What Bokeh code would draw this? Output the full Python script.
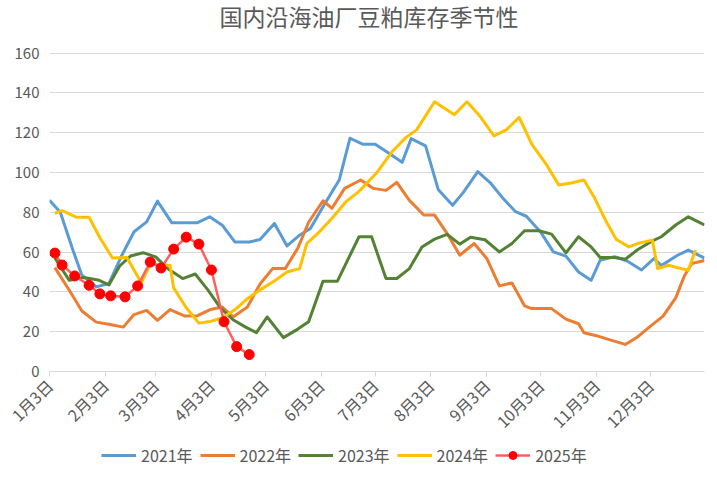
from bokeh.plotting import figure
from bokeh.layouts import column
from bokeh.models import Range1d, FixedTicker, Legend, LegendItem, Label
from bokeh.embed import file_html
from bokeh.resources import INLINE
import math

# x values: days since 1月3日
tick_days = [0, 31, 59, 90, 120, 151, 181, 212, 243, 273, 304, 334]
tick_labels = ["1月3日", "2月3日", "3月3日", "4月3日", "5月3日", "6月3日",
               "7月3日", "8月3日", "9月3日", "10月3日", "11月3日", "12月3日"]
y_ticks = [0, 20, 40, 60, 80, 100, 120, 140, 160]

x_2021 = [0, 6, 13, 18, 26, 33, 40, 47, 54, 60, 68, 75, 82, 89, 96, 103, 111, 117,
          125, 132, 139, 145, 152, 161, 167, 174, 181, 188, 196, 201, 209, 216, 224,
          230, 238, 245, 252, 259, 265, 273, 280, 287, 294, 301, 306, 314, 321, 329,
          336, 340, 349, 355, 364]
y_2021 = [86, 80, 61, 48.4, 42.5, 44.2, 58, 70.2, 75.2, 85.6, 74.7, 74.7, 74.7, 77.7,
          73.5, 65.1, 65.1, 66.3, 74.4, 63.1, 68.5, 71.9, 82.8, 96.2, 117.2, 114.2,
          114.2, 110, 105.1, 117, 113.4, 91.5, 83.5, 90, 100.4, 94.8, 87, 80.3, 78, 70,
          60.1, 58, 50, 45.8, 55.9, 57.7, 55.5, 51, 56.8, 53.2, 58.4, 61, 57]

x_2022 = [3, 11, 18, 26, 33, 41, 47, 54, 60, 67, 75, 82, 89, 96, 102, 110, 117, 124,
          131, 138, 144, 152, 157, 164, 173, 180, 187, 193, 200, 208, 214, 221, 228,
          236, 243, 250, 257, 264, 268, 273, 279, 287, 294, 297, 304, 311, 320, 327,
          334, 341, 348, 353, 357, 364]
y_2022 = [52.2, 40.8, 30.4, 24.8, 23.7, 22.3, 28.6, 30.7, 25.7, 31.1, 27.9, 28, 31,
          32.4, 27.4, 32.4, 44, 51.7, 51.7, 62, 75, 85.8, 82, 92, 96.2, 92, 91, 95, 86,
          78.6, 78.6, 69.3, 58.4, 64.3, 56.8, 43, 44.5, 33, 31.6, 31.6, 31.6, 26.3, 24,
          19.5, 18, 16, 13.6, 17.5, 22.8, 27.8, 37, 48.4, 54.3, 55.8]

x_2023 = [3, 11, 19, 27, 33, 39, 45, 52, 59, 66, 74, 81, 88, 95, 102, 109, 115, 121,
          130, 138, 144, 152, 160, 172, 179, 187, 193, 200, 207, 214, 221, 228, 234,
          242, 250, 257, 264, 272, 279, 287, 294, 301, 306, 314, 320, 327, 334, 340,
          348, 355, 364]
y_2023 = [57, 45.8, 47.2, 46, 43.5, 53, 58, 59.7, 57.6, 51.5, 46.7, 49, 41, 32, 26,
          22.3, 19.5, 27.4, 17, 21.3, 25, 45.4, 45.4, 67.7, 67.7, 46.7, 46.7, 51.7,
          62.6, 66.5, 68.9, 64, 67.4, 66.2, 60.1, 64.3, 70.7, 70.7, 69, 59.6, 67.7,
          62.6, 57.3, 57.3, 56.4, 61.3, 65.1, 67.7, 73.6, 77.7, 73.6]

x_2024 = [3, 7, 15, 22, 28, 35, 43, 51, 56, 67, 69, 76, 83, 90, 96, 103, 110, 117,
          125, 132, 139, 143, 150, 157, 165, 172, 182, 190, 198, 204, 214, 225, 232,
          239, 247, 254, 261, 268, 276, 283, 290, 297, 303, 309, 315, 322, 328, 335,
          338, 344, 351, 355, 359]
y_2024 = [79.5, 80.8, 77.5, 77.5, 67.2, 57, 57.3, 44.6, 54, 53.2, 42, 32, 24.3, 25.3,
          27, 31, 36.6, 41, 45.5, 50, 51.7, 64.3, 70.2, 77, 85.5, 90.5, 100, 110,
          117.5, 121.4, 135.5, 129, 135.5, 128.5, 118.4, 121.5, 127.7, 114.3, 104.2,
          93.7, 94.7, 96.2, 87, 76, 66.3, 62.6, 64.6, 66, 51.7, 53.4, 51.7, 50.9, 61]

x_2025 = [3, 7, 14, 22, 28, 34, 42, 49, 56, 62, 69, 76, 83, 90, 97, 104, 111]
y_2025 = [59.5, 53.5, 48, 43.3, 39, 38, 37.5, 43, 55, 52, 61.5, 67.5, 64, 51, 25,
          12.5, 8.5]

names = ["2021年", "2022年", "2023年", "2024年", "2025年"]
colors = ["#5B9BD5", "#ED7D31", "#548235", "#FFC000", "#FF5F5F"]
marker_color = "#FF0000"
title_text = "国内沿海油厂豆粕库存季节性"

FONT = "Noto Sans CJK SC"
TXT = "#595959"

xs = [x_2021, x_2022, x_2023, x_2024, x_2025]
ys = [y_2021, y_2022, y_2023, y_2024, y_2025]
widths = [3, 3, 3, 3, 2.5]


def draw_series(fig):
    items = []
    for i in range(5):
        r = fig.line(xs[i], ys[i], line_color=colors[i], line_width=widths[i],
                     line_join="round")
        rs = [r]
        if i == 4:
            rs.append(fig.scatter(xs[i], ys[i], size=10, fill_color=marker_color,
                                  line_color=marker_color))
        items.append(LegendItem(label=names[i], renderers=rs))
    return items


# main chart: frame covers the title band too; y ticks stop at 160
p = figure(width=717, height=443, output_backend="svg", toolbar_location=None,
           x_range=Range1d(0, 364), y_range=Range1d(0, 186.4),
           min_border_left=49, min_border_right=13, min_border_top=0,
           min_border_bottom=72)
p.outline_line_color = None
p.background_fill_color = "white"
p.border_fill_color = "white"

p.add_layout(Label(x=177.5, y=178.5, text=title_text, text_align="center",
                   text_baseline="middle", text_font=FONT, text_font_size="23px",
                   text_color=TXT))

p.xgrid.grid_line_color = None
p.ygrid.grid_line_color = "#D9D9D9"
p.ygrid.grid_line_width = 1

p.yaxis.ticker = FixedTicker(ticks=y_ticks)
p.yaxis.axis_line_color = None
p.yaxis.major_tick_line_color = None
p.yaxis.minor_tick_line_color = None
p.yaxis.major_tick_out = 0
p.yaxis.major_tick_in = 0
p.yaxis.major_label_standoff = 10
p.yaxis.major_label_text_font = FONT
p.yaxis.major_label_text_font_size = "15px"
p.yaxis.major_label_text_color = TXT

p.xaxis.ticker = FixedTicker(ticks=tick_days)
p.xaxis.major_label_overrides = {d: l for d, l in zip(tick_days, tick_labels)}
p.xaxis.major_label_orientation = math.pi / 4
p.xaxis.axis_line_color = "#D9D9D9"
p.xaxis.major_tick_line_color = "#D9D9D9"
p.xaxis.minor_tick_line_color = None
p.xaxis.major_tick_out = 5
p.xaxis.major_tick_in = 0
p.xaxis.major_label_standoff = 6
p.xaxis.major_label_text_font = FONT
p.xaxis.major_label_text_font_size = "16px"
p.xaxis.major_label_text_color = TXT

draw_series(p)

# legend strip: same series drawn out of view, only the legend shows
q = figure(width=717, height=36, output_backend="svg", toolbar_location=None,
           x_range=Range1d(-1000, -999), y_range=Range1d(0, 1),
           x_axis_type=None, y_axis_type=None,
           min_border_left=0, min_border_right=0, min_border_top=0,
           min_border_bottom=0)
q.outline_line_color = None
q.grid.visible = False
q.background_fill_color = "white"
q.border_fill_color = "white"
items = draw_series(q)

legend = Legend(items=items, orientation="horizontal", location=(52, 12))
legend.border_line_color = None
legend.background_fill_alpha = 0
legend.label_text_font = FONT
legend.label_text_font_size = "16px"
legend.label_text_color = TXT
legend.glyph_width = 35
legend.glyph_height = 20
legend.label_standoff = 5
legend.spacing = 7
legend.padding = 0
legend.margin = 0
q.add_layout(legend)

open("out.html", "w").write(file_html(column(p, q), INLINE))
